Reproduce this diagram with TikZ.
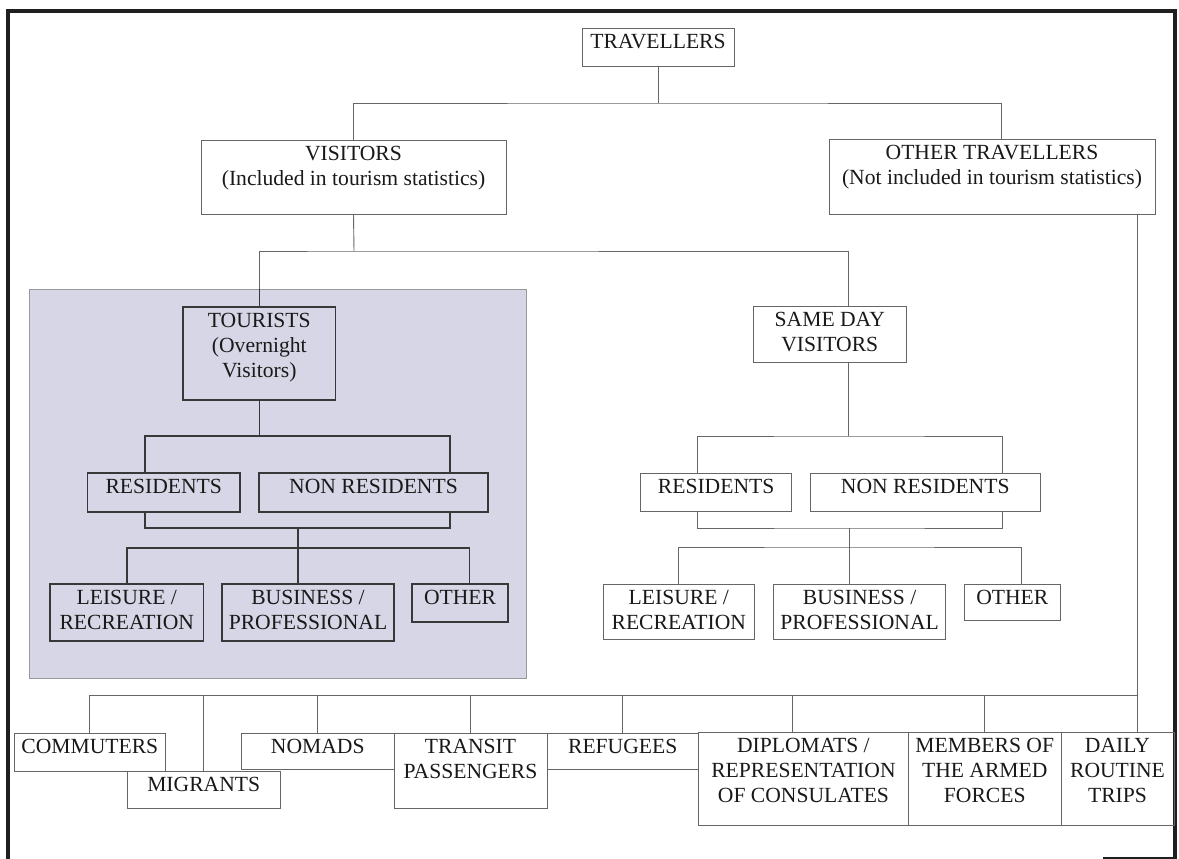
\documentclass[tikz,border=0pt]{standalone}
\usepackage{fontspec}
\setmainfont{Liberation Serif}
\begin{document}
\begin{tikzpicture}[x=1pt,y=-1pt,
  thinbox/.style={draw=black!60, line width=0.9pt, inner sep=0pt, outer sep=0pt},
  thickbox/.style={draw=black!78, line width=1.6pt, inner sep=0pt, outer sep=0pt},
  lbl/.style={font=\fontsize{21.6}{25}\selectfont, text=black!90, align=center, inner sep=0pt, anchor=north},
  conn/.style={draw=black!60, line width=0.9pt},
  tconn/.style={draw=black!78, line width=1.6pt},
  shadebox/.style={fill={rgb,255:red,214;green,214;blue,230}, draw=black!40, line width=0.8pt, inner sep=0pt, outer sep=0pt},
  frame/.style={draw=black!88, line width=3.5pt}]
\useasboundingbox (0,0) rectangle (1179,859);

% box with its text set near the top edge
\newcommand{\tbox}[6]{%
  \node[#1, minimum width=#4, minimum height=#5] (#2) at (#3) {};
  \node[lbl] (#2-t) at ([yshift=-6pt]#2.north) {#6};}

% outer frame
\draw[frame] (8,859) -- (8,11) -- (1175,11) -- (1175,859);
\draw[frame] (1103,859) -- (1175,859);

% shaded tourist panel
\node[shadebox, minimum width=497, minimum height=389] (shade) at (277.5,483.5) {};

% top levels
\tbox{thinbox}{trav}{658,47}{152}{38}{TRAVELLERS}
\tbox{thinbox}{vis}{353.5,177}{305}{74}{VISITORS\\(Included in tourism statistics)}
\tbox{thinbox}{oth}{992,176.5}{326}{75}{OTHER TRAVELLERS\\(Not included in tourism statistics)}

% tourists branch
\tbox{thickbox}{tour}{259.3,353.5}{152.6}{93}{TOURISTS\\(Overnight\\Visitors)}
\tbox{thickbox}{resL}{163.75,492.5}{152.5}{39}{RESIDENTS}
\tbox{thickbox}{nresL}{373.5,492.5}{229}{39}{NON RESIDENTS}
\tbox{thickbox}{leiL}{126.75,612.5}{153.5}{57}{LEISURE /\\RECREATION}
\tbox{thickbox}{busL}{308,612.5}{172}{57}{BUSINESS /\\PROFESSIONAL}
\tbox{thickbox}{othL}{460,603}{96}{38}{OTHER}

% same day visitors branch
\tbox{thinbox}{same}{829.8,334}{153.6}{56}{SAME DAY\\VISITORS}
\tbox{thinbox}{resR}{716.1,492}{151.2}{38}{RESIDENTS}
\tbox{thinbox}{nresR}{925.25,492}{230.5}{38}{NON RESIDENTS}
\tbox{thinbox}{leiR}{678.8,611.5}{151.6}{55}{LEISURE /\\RECREATION}
\tbox{thinbox}{busR}{859.65,611.5}{172.1}{55}{BUSINESS /\\PROFESSIONAL}
\tbox{thinbox}{othR}{1012.3,602.35}{96.6}{36.7}{OTHER}

% other travellers row
\tbox{thinbox}{comm}{89.85,752}{151.7}{38}{COMMUTERS}
\tbox{thinbox}{migr}{203.7,789.5}{152.6}{37}{MIGRANTS}
\tbox{thinbox}{noma}{317.75,751}{152.5}{36}{NOMADS}
\tbox{thinbox}{tran}{470.5,770.5}{153}{75}{TRANSIT\\PASSENGERS}
\tbox{thinbox}{refu}{622.7,751}{151.4}{36}{REFUGEES}
\tbox{thinbox}{dipl}{803.45,778.5}{210.1}{93}{DIPLOMATS /\\REPRESENTATION\\OF CONSULATES}
\tbox{thinbox}{memb}{984.75,778.5}{152.5}{93}{MEMBERS OF\\THE ARMED\\FORCES}
\tbox{thinbox}{dail}{1117.5,778.5}{113}{93}{DAILY\\ROUTINE\\TRIPS}

% junction points
\coordinate (j1) at (658,103);
\coordinate (j2) at (354,251);
\coordinate (l1) at (259.3,436);
\coordinate (l2) at (298,528);
\coordinate (l3) at (298,548);
\coordinate (r1) at (848.6,436);
\coordinate (r2) at (849,528);
\coordinate (r3) at (849,547);
\coordinate (b0) at (1137.7,695.5);

% travellers -> visitors / other travellers
\draw[conn] (trav.south) -- (j1);
\draw[conn] (vis.north) |- (j1) -| ([xshift=9pt]oth.north);

% visitors -> tourists / same day visitors
\draw[conn] (vis.south) -- (j2);
\draw[conn] (tour.north |- shade.north) |- (j2) -| ([xshift=18.8pt]same.north);
\draw[tconn] (tour.north |- shade.north) -- (tour.north);

% tourists subtree
\draw[tconn] (tour.south) -- (l1);
\draw[tconn] ([xshift=-18.75pt]resL.north) |- (l1) -| ([xshift=76.5pt]nresL.north);
\draw[tconn] ([xshift=-18.75pt]resL.south) |- (l2) -| ([xshift=76.5pt]nresL.south);
\draw[tconn] (l2) -- (l3);
\draw[tconn] (leiL.north) |- (l3) -| ([xshift=9.5pt]othL.north);
\draw[tconn] ([xshift=-10pt]busL.north) -- (l3);

% same day visitors subtree
\draw[conn] ([xshift=18.8pt]same.south) -- (r1);
\draw[conn] ([xshift=-19.1pt]resR.north) |- (r1) -| ([xshift=76.75pt]nresR.north);
\draw[conn] ([xshift=-19.1pt]resR.south) |- (r2) -| ([xshift=76.75pt]nresR.south);
\draw[conn] (r2) -- (r3);
\draw[conn] (leiR.north) |- (r3) -| ([xshift=8.7pt]othR.north);
\draw[conn] ([xshift=-10.65pt]busR.north) -- (r3);

% other travellers subtree
\draw[conn] ([xshift=145.7pt]oth.south) -- ([xshift=20.2pt]dail.north);
\draw[conn] (comm.north) |- (b0);
\draw[conn] (migr.north) -- (migr.north |- b0);
\draw[conn] (noma.north) -- (noma.north |- b0);
\draw[conn] (tran.north) -- (tran.north |- b0);
\draw[conn] (refu.north) -- (refu.north |- b0);
\draw[conn] ([xshift=-10.65pt]dipl.north) -- ([xshift=-10.65pt]dipl.north |- b0);
\draw[conn] (memb.north) -- (memb.north |- b0);
\end{tikzpicture}
\end{document}
